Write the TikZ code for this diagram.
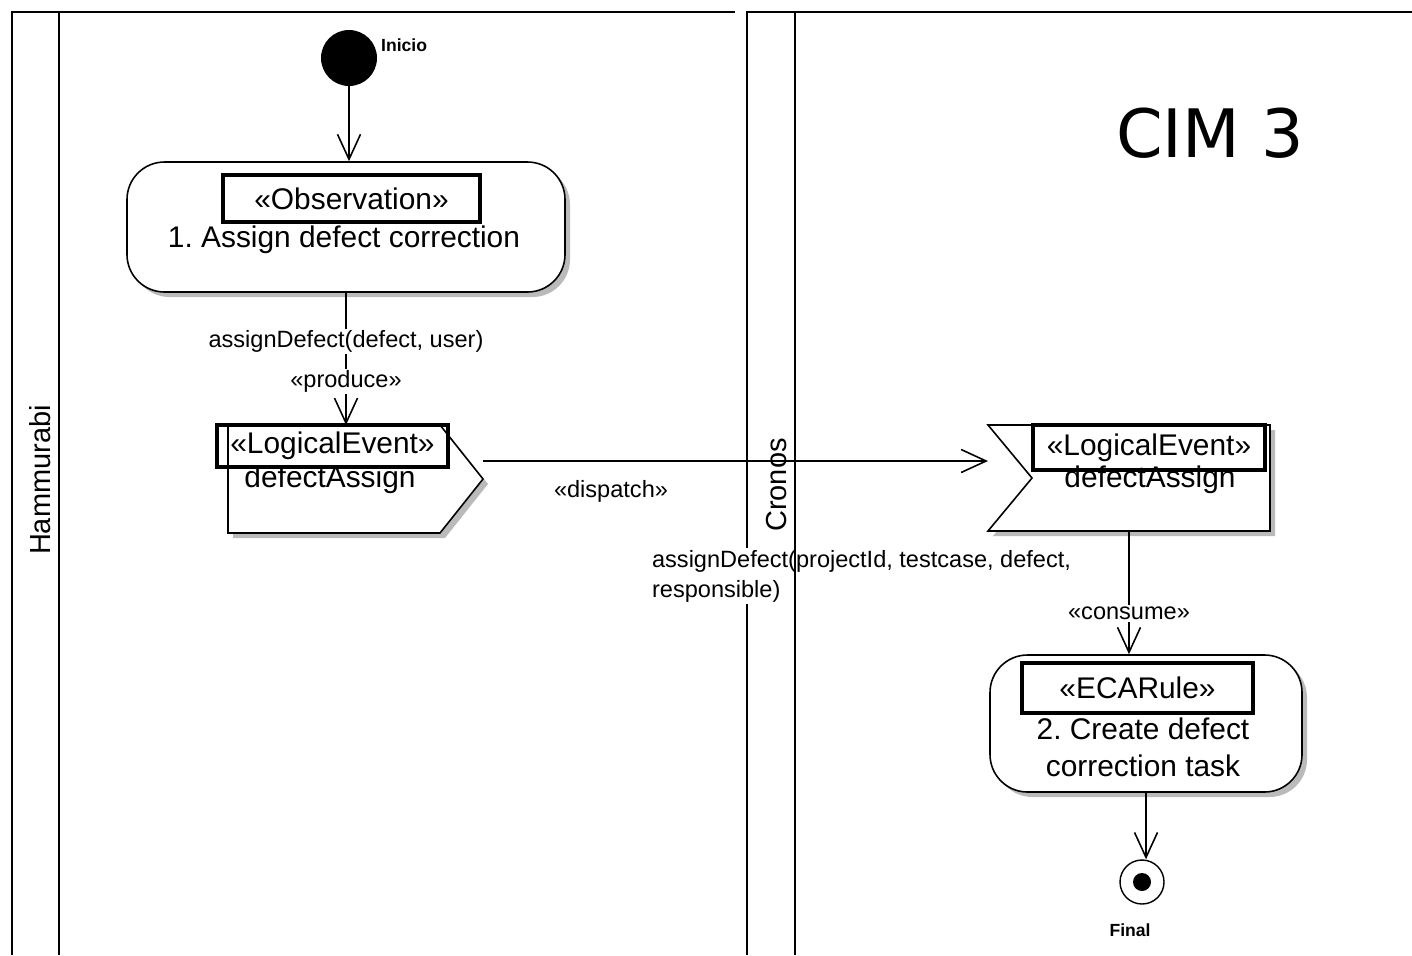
\documentclass[tikz,border=0pt]{standalone}
\usepackage{fontspec}
\setmainfont{Liberation Sans}
\newfontfamily\cimfont{DejaVu Sans}
\usetikzlibrary{arrows.meta,shadows}
\frenchspacing

\begin{document}
\begin{tikzpicture}[
    lane/.style={line width=1.2pt},
    flow/.style={line width=0.9pt,-{Straight Barb[length=0.5cm,width=0.46cm,line width=0.9pt]}},
    shadowed/.style={drop shadow={shadow xshift=0.1cm,shadow yshift=-0.1cm,fill=black!45,opacity=0.6}},
    activity/.style={draw,line width=0.9pt,fill=white,rounded corners=0.75cm,shadowed},
    eventshape/.style={line width=0.9pt,fill=white,shadowed},
    placeholder/.style={inner sep=0pt,outer sep=0pt},
    stereo/.style={draw,line width=2.2pt,inner sep=0pt,font=\fontsize{17}{20}\selectfont},
    actname/.style={font=\fontsize{17}{21}\selectfont,align=center},
    msg/.style={font=\fontsize{13.4}{17}\selectfont,fill=white,inner sep=1pt},
    small/.style={font=\fontsize{10}{12}\selectfont\bfseries},
    lanename/.style={rotate=90,font=\fontsize{16.5}{20}\selectfont},
    startnode/.style={circle,fill=black,minimum size=1.12cm,inner sep=0pt},
    finalnode/.style={circle,draw,line width=0.8pt,fill=white,minimum size=0.88cm,inner sep=0pt},
    finaldot/.style={circle,fill=black,minimum size=0.36cm,inner sep=0pt}
  ]
  \useasboundingbox (0,0) rectangle (28.24,-19.1);

  % swimlanes
  \draw[lane] (0.24,-19.1) -- (0.24,-0.24) -- (14.7,-0.24);
  \draw[lane] (1.18,-19.1) -- (1.18,-0.24);
  \draw[lane] (14.94,-19.1) -- (14.94,-0.24) -- (28.3,-0.24);
  \node[lanename] (hammurabi) at (0.8,-9.6) {Hammurabi};
  \node[lanename] (cronos) at (15.54,-9.7) {Cronos};
  \node[font=\cimfont\fontsize{38}{44}\selectfont] (cim) at (24.2,-2.66) {CIM 3};

  % Hammurabi
  \node[startnode] (inicio) at (6.98,-1.16) {};
  \node[small,anchor=west] (inicio-lbl) at (7.5,-0.9) {Inicio};

  \node[activity,minimum width=8.76cm,minimum height=2.6cm] (act1) at (6.92,-4.54) {};
  \node[actname] (act1-name) at (6.88,-4.8) {1. Assign defect correction};
  \node[stereo,minimum width=5.14cm,minimum height=0.94cm] (obs) at (7.03,-3.97) {«Observation»};

  \node[placeholder,minimum width=5.1cm,minimum height=2.16cm] (sig1) at (7.11,-9.58) {};
  \draw[eventshape] (sig1.north west) -- ([xshift=-0.86cm]sig1.north east) -- (sig1.east)
    -- ([xshift=-0.86cm]sig1.south east) -- (sig1.south west) -- cycle;
  \node[actname] (sig1-name) at (6.6,-9.6) {defectAssign};
  \node[stereo,minimum width=4.62cm,minimum height=0.84cm] (le1) at (6.65,-8.92) {«LogicalEvent»};

  % Cronos
  \node[placeholder,minimum width=5.64cm,minimum height=2.12cm] (sig2) at (22.58,-9.56) {};
  \draw[eventshape] (sig2.north west) -- (sig2.north east) -- (sig2.south east)
    -- (sig2.south west) -- ([xshift=0.88cm]sig2.west) -- cycle;
  \node[actname] (sig2-name) at (23.0,-9.6) {defectAssign};
  \node[stereo,minimum width=4.64cm,minimum height=0.9cm] (le2) at (22.98,-8.95) {«LogicalEvent»};

  \node[activity,minimum width=6.24cm,minimum height=2.74cm] (act2) at (22.92,-14.47) {};
  \node[actname] (act2-name) at (22.86,-14.94) {2. Create defect\\correction task};
  \node[stereo,minimum width=4.62cm,minimum height=1.0cm] (eca) at (22.75,-13.76) {«ECARule»};

  \node[finalnode] (final) at (22.84,-17.64) {};
  \node[finaldot] (final-dot) at (final) {};
  \node[small] (final-lbl) at (22.6,-18.6) {Final};

  % flows
  \draw[flow] (inicio) -- (inicio |- act1.north);
  \draw[flow] (act1.south) -- (act1.south |- sig1.north)
    node[msg,pos=0.37] {assignDefect(defect, user)}
    node[msg,pos=0.67] {«produce»};
  \draw[flow] ([yshift=0.36cm]sig1.east) -- ([yshift=0.34cm]sig2.west);
  \node[msg,fill=none] (dispatch) at (12.22,-9.82) {«dispatch»};
  \node[msg,anchor=west,align=left] (dispatch-sig) at (13.0,-11.52)
    {assignDefect(projectId, testcase, defect,\\responsible)};
  \draw[lane] (15.9,-19.1) -- (15.9,-0.24);
  \draw[flow] (sig2.south) -- (sig2.south |- act2.north)
    node[msg,pos=0.67] {«consume»};
  \draw[flow] (act2.south) -- (act2.south |- final.north);
\end{tikzpicture}
\end{document}
